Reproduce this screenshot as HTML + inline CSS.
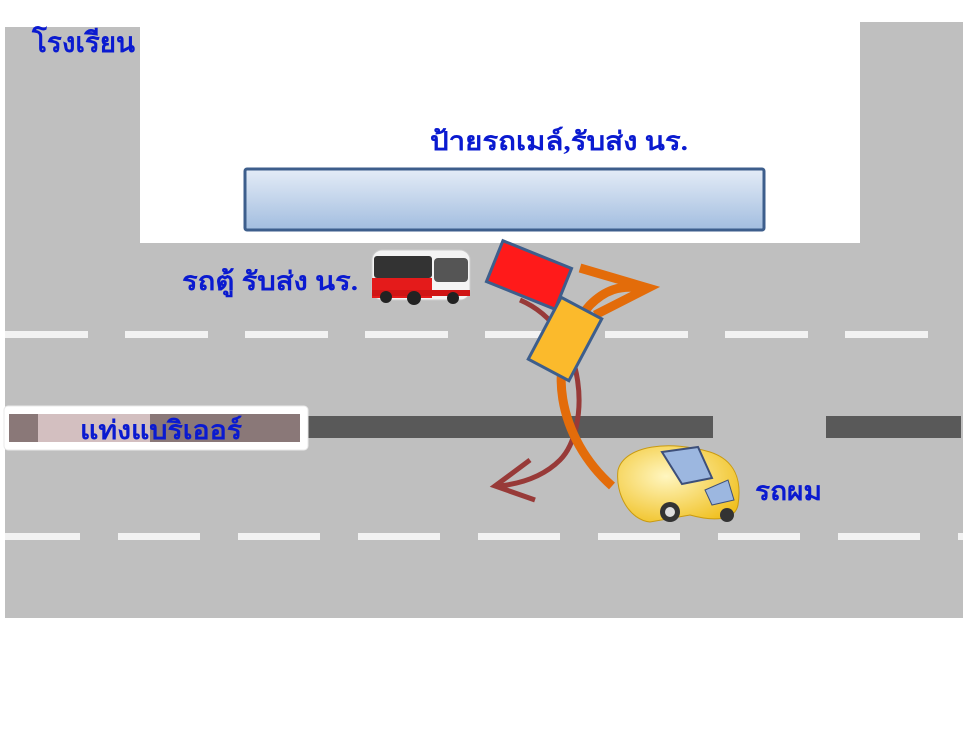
<!DOCTYPE html>
<html><head><meta charset="utf-8"><style>
body{margin:0;background:#fff;}
svg{display:block}
text{font-family:"Liberation Serif","Noto Serif CJK SC",serif;font-weight:bold;fill:#0a1ad0;}
</style></head><body>
<svg width="963" height="735" viewBox="0 0 963 735" xmlns="http://www.w3.org/2000/svg">
<defs>
<linearGradient id="g1" x1="0" y1="0" x2="0" y2="1"><stop offset="0" stop-color="#e4ecf7"/><stop offset="1" stop-color="#a2bddf"/></linearGradient>
<radialGradient id="cy" cx="0.4" cy="0.4" r="0.7"><stop offset="0" stop-color="#fff6c0"/><stop offset="1" stop-color="#f0c020"/></radialGradient>
</defs>
<rect x="5" y="27" width="135" height="591" fill="#bfbfbf"/>
<rect x="860" y="22" width="103" height="596" fill="#bfbfbf"/>
<rect x="5" y="243" width="958" height="375" fill="#bfbfbf"/>
<g fill="#f2f2f2">
<rect x="5" y="331" width="83" height="7"/><rect x="125" y="331" width="83" height="7"/><rect x="245" y="331" width="83" height="7"/><rect x="365" y="331" width="83" height="7"/><rect x="485" y="331" width="83" height="7"/><rect x="605" y="331" width="83" height="7"/><rect x="725" y="331" width="83" height="7"/><rect x="845" y="331" width="83" height="7"/>
<rect x="5" y="533" width="75" height="7"/><rect x="118" y="533" width="82" height="7"/><rect x="238" y="533" width="82" height="7"/><rect x="358" y="533" width="82" height="7"/><rect x="478" y="533" width="82" height="7"/><rect x="598" y="533" width="82" height="7"/><rect x="718" y="533" width="82" height="7"/><rect x="838" y="533" width="82" height="7"/><rect x="958" y="533" width="5" height="7"/>
</g>
<rect x="300" y="416" width="413" height="22" fill="#595959"/>
<rect x="826" y="416" width="135" height="22" fill="#595959"/>
<rect x="4" y="406" width="304" height="44" rx="4" fill="#fff" stroke="#e8e8e8"/>
<rect x="9" y="414" width="291" height="28" fill="#d3bfc0"/>
<rect x="9" y="414" width="29" height="28" fill="#8a7878"/>
<rect x="150" y="414" width="150" height="28" fill="#8a7878"/>
<text x="80" y="439" font-size="26" textLength="162" lengthAdjust="spacingAndGlyphs">แท่งแบริเออร์</text>
<text x="32" y="52" font-size="28" textLength="103" lengthAdjust="spacingAndGlyphs">โรงเรียน</text>
<text x="430" y="150" font-size="26" textLength="258" lengthAdjust="spacingAndGlyphs">ป้ายรถเมล์,รับส่ง นร.</text>
<text x="182" y="290" font-size="26" textLength="176" lengthAdjust="spacingAndGlyphs">รถตู้ รับส่ง นร.</text>
<text x="755" y="500" font-size="26" textLength="67" lengthAdjust="spacingAndGlyphs">รถผม</text>
<rect x="245" y="169" width="519" height="61" rx="2" fill="url(#g1)" stroke="#3d5e8c" stroke-width="3"/>
<path d="M520 300 C590 330 590 430 560 460 C545 475 525 483 500 486" fill="none" stroke="#983a38" stroke-width="5"/>
<path d="M530 460 L495 486 L535 500" fill="none" stroke="#983a38" stroke-width="5"/>
<path d="M612 486 C560 440 540 360 590 305 C605 290 620 285 640 288" fill="none" stroke="#e36c0a" stroke-width="9"/>
<path d="M580 268 L648 288 L595 315" fill="none" stroke="#e36c0a" stroke-width="9"/>
<rect x="-37" y="-22" width="74" height="44" fill="#ff1a1a" stroke="#3d5e8c" stroke-width="3" transform="translate(529 275) rotate(22)"/>
<rect x="-23" y="-35" width="46" height="70" fill="#fbba2c" stroke="#3d5e8c" stroke-width="3" transform="translate(565 339) rotate(28)"/>
<g>
<rect x="372" y="250" width="98" height="50" rx="10" fill="#f4f4f4" stroke="#ccc"/>
<rect x="374" y="256" width="58" height="22" rx="3" fill="#333"/>
<rect x="434" y="258" width="34" height="24" rx="4" fill="#555"/>
<rect x="372" y="278" width="60" height="20" fill="#e41b1b"/>
<rect x="372" y="290" width="98" height="6" fill="#d01515"/>
<circle cx="386" cy="297" r="6" fill="#222"/><circle cx="414" cy="298" r="7" fill="#222"/><circle cx="453" cy="298" r="6" fill="#222"/>
</g>
<g>
<path d="M618 470 C625 445 670 440 710 452 C735 460 742 480 738 505 C735 520 715 522 690 515 L650 522 C630 520 615 495 618 470Z" fill="url(#cy)" stroke="#c99a10"/>
<path d="M662 452 L698 447 L712 478 L682 484Z" fill="#9cb7e0" stroke="#3d4f7a" stroke-width="2"/>
<path d="M705 490 L728 480 L734 500 L712 505Z" fill="#9cb7e0" stroke="#3d4f7a"/>
<circle cx="670" cy="512" r="10" fill="#333"/><circle cx="670" cy="512" r="5" fill="#ddd"/>
<circle cx="727" cy="515" r="7" fill="#333"/>
</g>
</svg>
</body></html>
